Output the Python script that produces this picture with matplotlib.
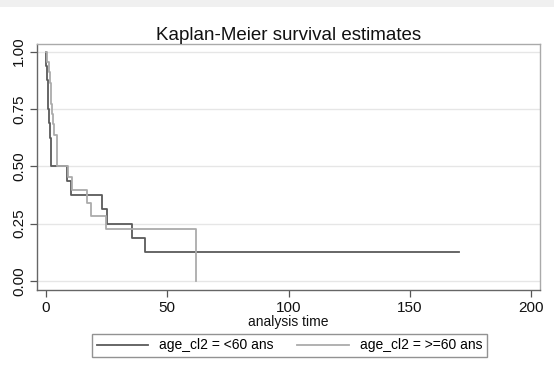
import matplotlib
matplotlib.use("Agg")
import matplotlib.pyplot as plt
from matplotlib.patches import Rectangle

plt.rcParams['font.family'] = ['Liberation Sans', 'DejaVu Sans']

# Kaplan-Meier step data (time, survival)
t_lt60 = [0, 0.3, 0.6, 0.9, 1.2, 1.5, 1.8, 2.1, 2.4, 8.7, 10.4, 23.1, 25.3, 35.6, 40.9, 170]
s_lt60 = [1, 0.9375, 0.875, 0.8125, 0.75, 0.6875, 0.625, 0.5625, 0.5, 0.4375, 0.375,
          0.3125, 0.25, 0.1875, 0.125, 0.125]
t_ge60 = [0, 0.8, 1.5, 1.8, 2.1, 2.4, 2.6, 2.9, 3.3, 4.6, 9.4, 10.8, 17.2, 18.6, 24.9, 61.8]
s_ge60 = [1, 0.955, 0.909, 0.864, 0.818, 0.773, 0.727, 0.682, 0.636, 0.5, 0.4545,
          0.3977, 0.3409, 0.2841, 0.2273, 0]

labels = ["age_cl2 = <60 ans", "age_cl2 = >=60 ans"]
xticks = [0, 50, 100, 150, 200]
yticks = [0.0, 0.25, 0.5, 0.75, 1.0]
ytick_labels = ["0.00", "0.25", "0.50", "0.75", "1.00"]

fig = plt.figure(figsize=(5.54, 3.67), dpi=100)
fig.patches.append(Rectangle((0, 1 - 7/367), 1, 7/367, transform=fig.transFigure,
                             facecolor='#f0f0f0', edgecolor='none'))
ax = fig.add_axes([37/554, 1 - 290/367, 503/554, 246/367])

for y in yticks:
    ax.axhline(y, color='#e6e6e6', lw=1.0, zorder=0)

l1, = ax.step(t_lt60, s_lt60, where='post', color='#5a5a5a', lw=1.3, label=labels[0])
l2, = ax.step(t_ge60, s_ge60, where='post', color='#ababab', lw=1.3, label=labels[1])

ax.set_xlim(-3.5, 203.5)
ax.set_ylim(-0.04, 1.033)
ax.set_xticks(xticks)
ax.set_yticks(yticks)
ax.set_yticklabels(ytick_labels, rotation=90, va='center')
ax.tick_params(axis='both', direction='out', length=5, color='#555555', labelsize=11,
               labelcolor='#111111', width=0.9, pad=3)
for sp in ax.spines.values():
    sp.set_color('#aaaaaa')
    sp.set_linewidth(1.0)
ax.spines['left'].set_color('#666666')
ax.spines['bottom'].set_color('#666666')

ax.set_xlabel("analysis time", fontsize=10, labelpad=0, color='#111111')
ax.set_title("Kaplan-Meier survival estimates", fontsize=13.5, pad=3, color='#111111')

leg = fig.legend(handles=[l1, l2], labels=labels, loc='center',
                 bbox_to_anchor=(289.5/554, 1 - 345.5/367), ncol=2, frameon=True,
                 fancybox=False, edgecolor='#777777', fontsize=10, handlelength=3.7,
                 columnspacing=1.7, borderpad=0.35, handletextpad=0.8)
leg.get_frame().set_linewidth(1.0)

fig.savefig("out.png", dpi=100, facecolor='white')
